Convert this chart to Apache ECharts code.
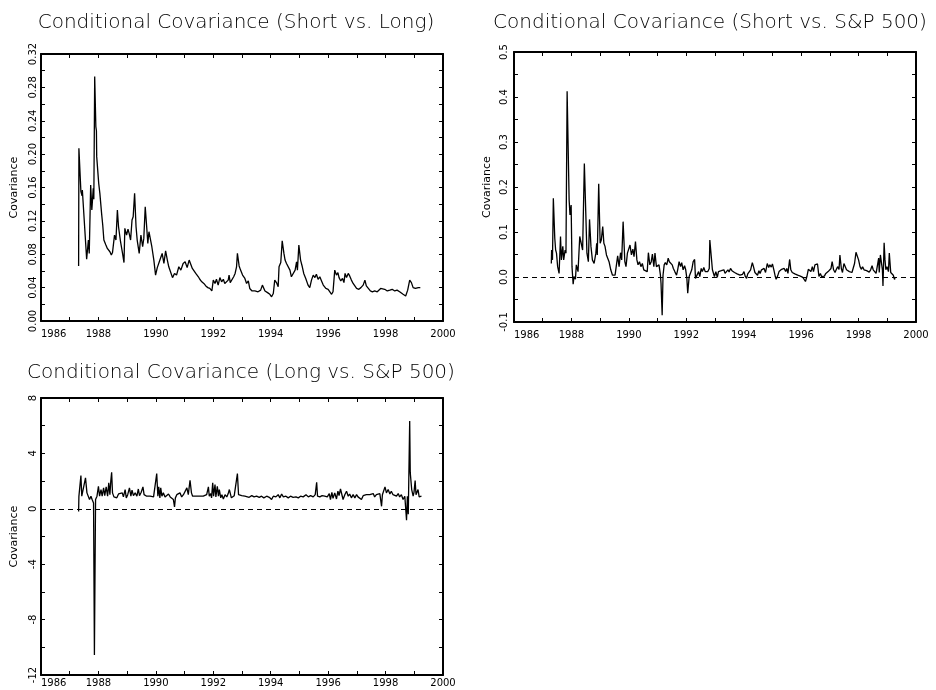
<!DOCTYPE html>
<html><head><meta charset="utf-8">
<script src="https://cdn.jsdelivr.net/npm/echarts@6/dist/echarts.min.js"></script>
<style>html,body{margin:0;padding:0;background:#fff}#c{width:936px;height:690px}</style>
</head><body><div id="c"></div>
<script>
// ---------- data ----------
const panelTitles = [
  'Conditional Covariance (Short vs. Long)',
  'Conditional Covariance (Short vs. S&P 500)',
  'Conditional Covariance (Long vs. S&P 500)'
];
const yName = 'Covariance';
const xRange = [1986, 2000];

// Short vs. Long
const s1Years = [
1987.31,1987.32,1987.39,1987.43,1987.44,1987.59,1987.65,1987.68,1987.73,1987.77,
1987.82,1987.84,1987.87,1987.91,1987.93,1987.94,1988.01,1988.05,1988.11,1988.15,
1988.19,1988.26,1988.31,1988.35,1988.40,1988.45,1988.49,1988.53,1988.56,1988.61,
1988.66,1988.70,1988.77,1988.84,1988.89,1988.92,1988.98,1989.03,1989.07,1989.12,
1989.17,1989.21,1989.26,1989.31,1989.35,1989.42,1989.48,1989.54,1989.58,1989.63,
1989.68,1989.72,1989.76,1989.82,1989.86,1989.93,1989.99,1990.05,1990.12,1990.18,
1990.22,1990.28,1990.34,1990.40,1990.45,1990.51,1990.58,1990.65,1990.72,1990.80,
1990.87,1990.95,1991.02,1991.09,1991.16,1991.21,1991.27,1991.32,1991.39,1991.48,
1991.53,1991.60,1991.67,1991.74,1991.81,1991.88,1991.95,1992.00,1992.06,1992.11,
1992.17,1992.23,1992.29,1992.35,1992.40,1992.46,1992.52,1992.55,1992.59,1992.65,
1992.71,1992.76,1992.81,1992.84,1992.90,1992.95,1993.02,1993.10,1993.16,1993.22,
1993.27,1993.35,1993.45,1993.56,1993.65,1993.71,1993.80,1993.89,1993.97,1994.03,
1994.09,1994.14,1994.20,1994.26,1994.29,1994.35,1994.40,1994.46,1994.50,1994.55,
1994.61,1994.67,1994.72,1994.78,1994.85,1994.90,1994.93,1994.98,1995.04,1995.10,
1995.15,1995.22,1995.30,1995.36,1995.42,1995.48,1995.54,1995.59,1995.65,1995.71,
1995.77,1995.83,1995.92,1996.00,1996.06,1996.12,1996.17,1996.23,1996.29,1996.34,
1996.38,1996.44,1996.50,1996.55,1996.59,1996.64,1996.70,1996.75,1996.81,1996.87,
1996.93,1996.99,1997.07,1997.14,1997.22,1997.28,1997.33,1997.40,1997.47,1997.54,
1997.62,1997.71,1997.77,1997.83,1997.89,1997.97,1998.06,1998.15,1998.23,1998.32,
1998.40,1998.49,1998.61,1998.70,1998.77,1998.84,1998.90,1998.96,1999.04,1999.10,
1999.14,1999.21];
const s1Values = [
0.066,0.207,0.155,0.150,0.157,0.074,0.097,0.081,0.163,0.133,
0.159,0.146,0.293,0.233,0.228,0.197,0.165,0.153,0.129,0.115,
0.097,0.091,0.087,0.088,0.083,0.079,0.082,0.081,0.103,0.097,
0.133,0.113,0.095,0.081,0.070,0.111,0.103,0.110,0.105,0.097,
0.121,0.125,0.153,0.113,0.097,0.081,0.103,0.089,0.099,0.137,
0.113,0.093,0.107,0.105,0.089,0.073,0.055,0.064,0.071,0.077,
0.081,0.069,0.084,0.073,0.065,0.059,0.052,0.057,0.055,0.065,
0.061,0.069,0.071,0.064,0.073,0.075,0.063,0.065,0.057,0.053,
0.050,0.047,0.045,0.042,0.040,0.039,0.036,0.049,0.045,0.050,
0.043,0.052,0.047,0.050,0.045,0.044,0.049,0.055,0.046,0.047,
0.053,0.057,0.065,0.081,0.066,0.061,0.055,0.051,0.045,0.048,
0.039,0.036,0.036,0.035,0.037,0.043,0.036,0.034,0.032,0.029,
0.033,0.049,0.046,0.041,0.065,0.070,0.096,0.081,0.073,0.069,
0.071,0.061,0.053,0.055,0.061,0.071,0.061,0.091,0.073,0.065,
0.057,0.051,0.043,0.040,0.049,0.055,0.052,0.056,0.050,0.053,
0.048,0.043,0.039,0.038,0.035,0.032,0.035,0.061,0.055,0.058,
0.052,0.048,0.051,0.046,0.057,0.052,0.057,0.054,0.049,0.045,
0.042,0.039,0.038,0.040,0.043,0.049,0.042,0.039,0.036,0.035,
0.036,0.035,0.037,0.039,0.037,0.038,0.036,0.037,0.038,0.036,
0.037,0.035,0.032,0.030,0.037,0.049,0.046,0.040,0.039,0.037,
0.040,0.040];

// Short vs. S&P 500
const s2Years = [
1987.30,1987.31,1987.34,1987.37,1987.42,1987.45,1987.48,1987.52,1987.57,1987.62,
1987.65,1987.70,1987.73,1987.78,1987.81,1987.85,1987.92,1987.95,1987.99,1988.02,
1988.06,1988.09,1988.14,1988.17,1988.23,1988.29,1988.35,1988.39,1988.45,1988.50,
1988.54,1988.59,1988.63,1988.68,1988.73,1988.79,1988.85,1988.88,1988.90,1988.95,
1989.00,1989.04,1989.09,1989.13,1989.17,1989.22,1989.27,1989.31,1989.37,1989.43,
1989.47,1989.52,1989.57,1989.61,1989.66,1989.71,1989.75,1989.80,1989.86,1989.90,
1989.95,1990.00,1990.04,1990.09,1990.14,1990.18,1990.23,1990.28,1990.32,1990.37,
1990.42,1990.47,1990.52,1990.58,1990.64,1990.68,1990.73,1990.78,1990.82,1990.87,
1990.91,1990.96,1991.01,1991.05,1991.10,1991.12,1991.16,1991.19,1991.23,1991.27,
1991.32,1991.37,1991.41,1991.46,1991.51,1991.55,1991.60,1991.66,1991.70,1991.75,
1991.80,1991.84,1991.89,1991.94,1991.98,1992.02,1992.05,1992.10,1992.15,1992.19,
1992.24,1992.29,1992.32,1992.38,1992.43,1992.47,1992.52,1992.56,1992.61,1992.66,
1992.70,1992.75,1992.80,
1992.82,1992.91,1992.98,1993.03,1993.08,1993.12,1993.17,1993.22,1993.26,1993.31,
1993.35,1993.40,1993.45,1993.49,1993.54,1993.59,1993.63,1993.68,1993.73,1993.77,
1993.82,1993.87,1993.91,1993.96,1994.01,1994.05,1994.10,1994.14,1994.19,1994.24,
1994.30,1994.34,1994.39,1994.44,1994.48,1994.53,1994.57,1994.62,1994.67,1994.71,
1994.76,1994.82,1994.87,1994.91,1994.96,1995.00,1995.05,1995.10,1995.13,1995.18,
1995.23,1995.27,1995.32,1995.36,1995.41,1995.46,1995.50,1995.54,1995.60,1995.64,
1995.69,1995.74,1995.78,1995.83,1995.88,1995.92,1995.97,1996.02,1996.06,1996.11,
1996.15,1996.20,1996.25,1996.29,1996.34,1996.39,1996.43,1996.48,1996.53,1996.57,
1996.62,1996.67,1996.71,1996.76,1996.81,1996.85,1996.90,1996.94,1996.99,1997.04,
1997.08,1997.13,1997.18,1997.22,1997.27,1997.32,1997.35,1997.40,1997.44,1997.49,
1997.54,1997.58,1997.63,1997.68,1997.72,1997.77,1997.82,1997.86,1997.91,1997.96,
1998.00,1998.05,1998.10,1998.14,1998.19,1998.23,1998.28,1998.33,1998.37,1998.42,
1998.47,1998.51,1998.56,1998.61,1998.65,1998.70,1998.72,1998.76,1998.79,1998.83,
1998.85,1998.89,1998.92,1998.95,1998.99,1999.04,1999.07,1999.12,1999.16,1999.21,
1999.25,1999.28];
const s2Values = [
0.030,0.060,0.038,0.175,0.086,0.060,0.053,0.023,0.008,0.090,
0.038,0.068,0.038,0.060,0.053,0.413,0.171,0.138,0.160,0.023,
-0.016,0.001,-0.005,0.027,0.012,0.090,0.094,0.060,0.252,0.142,
0.053,0.034,0.128,0.068,0.038,0.030,0.053,0.075,0.049,0.207,
0.075,0.082,0.112,0.075,0.068,0.049,0.049,0.034,0.016,0.004,
0.001,0.004,0.001,0.047,0.023,0.054,0.038,0.123,0.034,0.023,
0.053,0.049,0.071,0.049,0.062,0.045,0.079,0.038,0.027,0.034,
0.023,0.030,0.016,0.017,0.012,0.054,0.027,0.034,0.051,0.023,
0.053,0.023,0.019,0.027,0.004,-0.014,-0.085,0.004,0.027,0.032,
0.027,0.042,0.034,0.038,0.027,0.019,0.012,0.004,0.016,0.034,
0.023,0.032,0.016,0.025,0.016,-0.003,-0.036,0.001,0.001,0.016,
0.034,0.039,-0.003,-0.003,0.012,0.001,0.019,0.012,0.021,0.012,
0.016,0.012,0.019,
0.082,0.016,0.001,0.012,-0.001,0.012,0.008,0.014,0.010,0.016,
0.008,0.008,0.016,0.011,0.019,0.014,0.016,0.010,0.012,0.007,
0.010,0.004,0.008,0.006,0.012,0.002,-0.003,0.007,0.008,0.016,
0.032,0.023,0.010,0.008,0.004,0.014,0.008,0.016,0.012,0.019,
0.010,0.030,0.021,0.027,0.022,0.029,0.016,0.001,-0.005,0.002,
0.012,0.008,0.017,0.014,0.019,0.012,0.019,0.008,0.039,0.016,
0.010,0.008,0.007,0.010,0.004,0.007,0.002,0.004,-0.001,-0.003,
-0.010,0.001,0.017,0.019,0.012,0.023,0.012,0.027,0.023,0.029,
0.001,0.008,0.001,0.004,0.002,0.007,0.004,0.012,0.010,0.019,
0.034,0.016,0.010,0.016,0.023,0.017,0.049,0.019,0.010,0.030,
0.027,0.016,0.017,0.012,0.016,0.010,0.012,0.030,0.055,0.053,
0.038,0.023,0.017,0.023,0.016,0.019,0.014,0.017,0.011,0.016,
0.025,0.016,0.012,0.008,0.010,0.042,0.010,0.049,0.053,0.016,
-0.020,0.076,0.038,0.016,0.023,0.012,0.053,0.010,0.008,0.004,
-0.005,-0.003];

// Long vs. S&P 500
const s3Years = [
1987.31,1987.32,1987.39,1987.42,1987.48,1987.55,1987.60,1987.64,1987.69,1987.74,
1987.78,1987.83,1987.86,1987.90,1987.95,1988.00,1988.04,1988.09,1988.13,1988.18,
1988.22,1988.27,1988.32,1988.36,1988.40,1988.43,1988.46,1988.49,1988.54,1988.58,
1988.64,1988.70,1988.76,1988.83,1988.87,1988.93,1988.97,1989.02,1989.08,1989.13,
1989.17,1989.22,1989.28,1989.34,1989.39,1989.43,1989.49,1989.55,1989.59,1989.64,
1989.68,1989.74,1989.80,1989.86,1989.92,1989.97,1990.03,1990.07,1990.10,1990.14,
1990.17,1990.21,1990.26,1990.32,1990.38,1990.44,1990.50,1990.55,1990.61,1990.65,
1990.68,1990.73,1990.79,1990.84,1990.90,1990.96,1991.02,1991.08,1991.13,1991.19,
1991.24,1991.28,1991.34,1991.42,1991.48,1991.54,1991.60,1991.65,1991.71,1991.77,
1991.83,1991.86,1991.91,1991.94,1991.98,1992.01,1992.06,1992.09,1992.14,1992.18,
1992.21,1992.26,1992.30,1992.35,1992.41,1992.47,1992.52,1992.56,1992.59,1992.63,
1992.67,1992.73,1992.79,1992.84,1992.88,1992.93,1992.99,1993.05,1993.10,1993.16,
1993.25,1993.34,1993.42,1993.51,1993.60,1993.68,1993.76,1993.86,1993.95,1994.03,
1994.09,1994.18,1994.26,1994.32,1994.38,1994.44,1994.53,1994.61,1994.69,1994.78,
1994.88,1994.96,1995.04,1995.13,1995.23,1995.31,1995.39,1995.48,1995.55,1995.60,
1995.63,1995.71,1995.79,1995.88,1995.97,1996.04,1996.08,1996.13,1996.17,1996.23,
1996.29,1996.34,1996.38,1996.43,1996.48,1996.52,1996.58,1996.64,1996.70,1996.75,
1996.81,1996.87,1996.93,1996.99,1997.04,1997.10,1997.16,1997.22,1997.28,1997.33,
1997.39,1997.45,1997.51,1997.57,1997.62,1997.68,1997.74,1997.80,1997.86,1997.89,
1997.94,1997.98,1998.03,1998.09,1998.15,1998.20,1998.26,1998.32,1998.38,1998.44,
1998.49,1998.55,1998.61,1998.67,1998.73,1998.76,1998.79,1998.84,1998.86,1998.91,
1998.96,1998.99,1999.03,1999.06,1999.10,1999.13,1999.17,1999.21,1999.25];
const s3Values = [
-0.20,0.90,2.40,0.91,1.02,2.23,1.15,1.27,0.67,0.91,
0.67,0.42,-10.55,0.67,0.91,1.63,0.91,1.39,0.91,1.51,
0.95,1.58,0.91,1.87,1.02,1.99,2.64,1.15,0.86,0.95,
0.79,1.07,0.95,1.15,0.86,1.39,0.79,1.02,1.51,0.91,
1.34,0.95,1.15,0.91,1.43,0.95,1.19,1.58,1.02,1.15,
0.91,0.86,0.91,0.83,0.86,0.91,2.54,0.91,1.58,0.79,
1.51,0.91,1.15,0.86,0.91,1.07,0.86,0.95,0.67,0.13,
0.79,1.02,0.91,1.15,0.86,1.02,0.91,1.51,1.02,2.06,
1.15,0.91,0.86,0.91,0.95,0.91,1.02,0.91,0.95,1.02,
1.58,0.91,1.10,0.79,1.87,0.91,1.75,0.86,1.63,0.91,
1.39,0.79,1.02,0.71,1.02,0.86,1.10,1.39,1.43,0.79,
0.91,0.95,0.86,2.54,1.02,0.91,0.95,0.86,0.91,0.95,
0.83,0.95,0.86,0.91,0.83,0.91,0.79,0.91,0.83,0.67,
0.91,0.86,1.02,0.79,1.07,0.86,0.91,0.79,0.91,0.83,
0.86,0.79,0.91,0.86,1.02,0.86,0.95,0.86,1.02,1.92,
0.91,0.86,0.95,0.91,0.86,1.10,0.67,1.19,0.76,1.15,
0.71,1.27,0.95,1.43,1.48,0.67,1.02,1.27,0.91,1.07,
0.79,1.02,0.79,1.02,0.86,0.95,0.67,0.95,0.86,1.02,
0.91,1.02,0.91,1.10,0.86,1.02,0.95,1.10,0.18,1.02,
1.15,1.58,1.15,1.39,1.07,1.27,1.02,1.15,0.91,1.10,
0.86,1.02,0.67,0.91,-0.83,0.91,-0.40,6.33,2.59,1.39,
0.91,1.19,2.04,1.02,0.91,1.39,0.86,0.79,0.91];

// axis scales per panel
const yMins = [0, -0.1, -12];
const yMaxs = [0.32, 0.5, 8];
const yTickSteps = [0.02, 0.05, 2];
const yDecimals = [2, 1, 0];

// ---------- layout ----------
const grids = [
  {left: 41, top: 54, width: 402, height: 267},
  {left: 514, top: 52, width: 402, height: 270},
  {left: 41, top: 398, width: 402, height: 277}
];
const titlePos = [
  {x: 236, y: 13}, {x: 710, y: 13}, {x: 241, y: 363}
];
const yLabelMargin = [3, 5, 3];
const xLabelMargin = [8, 8, 3];
const FONT = 'DejaVu Sans';

function zip(xs, ys) { return xs.map((x, i) => [x, ys[i]]); }

const xAxes = [], yAxes = [], series = [];
grids.forEach((g, gi) => {
  const lineStyle = {color: '#000', width: 2};
  const tick = {show: true, inside: true, length: 4, lineStyle: {color: '#000', width: 1}};
  xAxes.push({
    type: 'value', gridIndex: gi, position: 'bottom', min: xRange[0], max: xRange[1], interval: 1,
    axisLine: {show: true, onZero: false, lineStyle},
    axisTick: tick, splitLine: {show: false},
    axisLabel: {
      show: true, margin: xLabelMargin[gi], color: '#000', fontFamily: FONT, fontSize: 10,
      alignMinLabel: 'left',
      formatter: v => (Math.round(v) % 2 === 0 ? String(Math.round(v)) : '')
    }
  });
  xAxes.push({
    type: 'value', gridIndex: gi, position: 'top', min: xRange[0], max: xRange[1], interval: 1,
    axisLine: {show: true, onZero: false, lineStyle},
    axisTick: tick, splitLine: {show: false}, axisLabel: {show: false}
  });
  yAxes.push({
    type: 'value', gridIndex: gi, position: 'left', min: yMins[gi], max: yMaxs[gi], interval: yTickSteps[gi],
    axisLine: {show: true, onZero: false, lineStyle},
    axisTick: tick, splitLine: {show: false},
    axisLabel: {
      show: true, rotate: 90, margin: yLabelMargin[gi], color: '#000', fontFamily: FONT, fontSize: 10,
      formatter: (v, i) => (i % 2 === 0 ? v.toFixed(yDecimals[gi]) : '')
    },
    name: yName, nameLocation: 'middle', nameGap: 21, nameRotate: 90,
    nameTextStyle: {color: '#000', fontFamily: FONT, fontSize: 11}
  });
  yAxes.push({
    type: 'value', gridIndex: gi, position: 'right', min: yMins[gi], max: yMaxs[gi], interval: yTickSteps[gi],
    axisLine: {show: true, onZero: false, lineStyle},
    axisTick: tick, splitLine: {show: false}, axisLabel: {show: false}
  });
});

const dataSets = [zip(s1Years, s1Values), zip(s2Years, s2Values), zip(s3Years, s3Values)];
dataSets.forEach((d, gi) => {
  const s = {
    type: 'line', xAxisIndex: gi * 2, yAxisIndex: gi * 2, data: d,
    showSymbol: false, symbol: 'none', smooth: false,
    lineStyle: {color: '#000', width: 1.3}, z: 3
  };
  if (gi > 0) {
    s.markLine = {
      silent: true, symbol: 'none', label: {show: false},
      lineStyle: {color: '#000', width: 1, type: [5, 4]},
      data: [{yAxis: 0}]
    };
  }
  series.push(s);
});

const option = {
  animation: false,
  backgroundColor: '#fff',
  title: panelTitles.map((t, i) => ({
    text: t, left: titlePos[i].x, top: titlePos[i].y, textAlign: 'center', padding: 0,
    textStyle: {color: '#000', fontFamily: FONT, fontSize: 20, fontWeight: 200}
  })),
  grid: grids,
  xAxis: xAxes,
  yAxis: yAxes,
  series
};

const chart = echarts.init(document.getElementById('c'), null, {renderer: 'canvas'});
chart.setOption(option);
</script>
</body></html>
